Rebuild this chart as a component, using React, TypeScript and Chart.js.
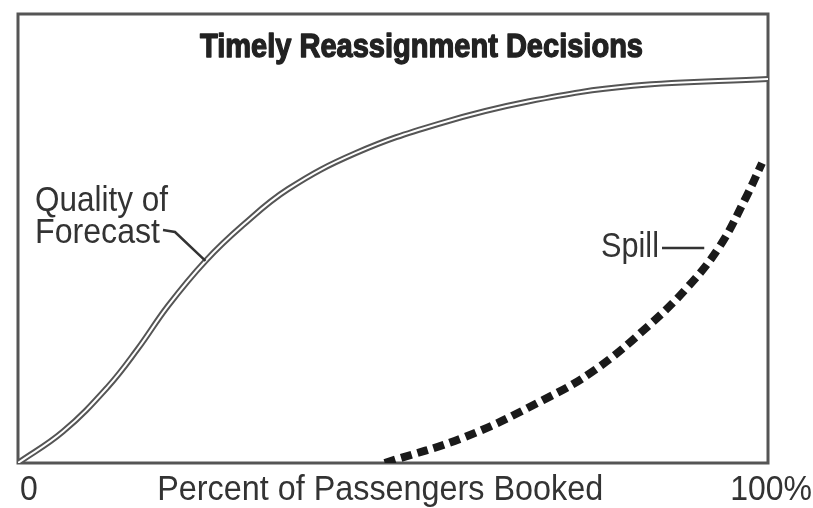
import React, { useEffect, useRef } from "react";
import { Chart, registerables } from "chart.js";

Chart.register(...registerables);

const chartTitle = "Timely Reassignment Decisions";
const xAxisLabel = "Percent of Passengers Booked";
const xTickLabels = ["0", "100%"];
const forecastLabel = ["Quality of", "Forecast"];
const spillLabel = "Spill";

const forecastX = [0, 6, 12, 16, 20, 25, 30, 36, 45, 56, 68, 82, 100];
const forecastY = [0, 7, 17, 25.5, 35, 45, 53, 61, 69, 75.5, 80.5, 84, 85.5];
const spillX = [48.9, 59.6, 70, 76.9, 83.9, 89.3, 93.5, 96.9, 99.2];
const spillY = [0, 5.8, 14, 20.7, 30.3, 39.2, 48.1, 58.6, 66.8];

const SANS = "'Liberation Sans', Arial, Helvetica, sans-serif";

function drawScaled(ctx: any, text: string, x: number, y: number, align: string, targetWidth: number | null, sy: number, strokeW = 0) {
  const w = ctx.measureText(text).width;
  const sx = targetWidth ? targetWidth / w : 1;
  ctx.save();
  ctx.translate(x, y);
  ctx.scale(sx, sy);
  ctx.textAlign = align;
  ctx.fillText(text, 0, 0);
  if (strokeW > 0) {
    ctx.lineWidth = strokeW;
    ctx.strokeStyle = ctx.fillStyle;
    ctx.lineJoin = "round";
    ctx.strokeText(text, 0, 0);
  }
  ctx.restore();
}

const decorPlugin = {
  id: "decor",
  beforeDatasetsDraw(chart: any) {
    const { ctx, chartArea } = chart;
    ctx.save();
    ctx.strokeStyle = "#555";
    ctx.lineWidth = 3;
    ctx.strokeRect(chartArea.left, chartArea.top, chartArea.right - chartArea.left, chartArea.bottom - chartArea.top);
    ctx.restore();
  },
  afterDraw(chart: any) {
    const { ctx, chartArea, scales } = chart;
    const xs = scales.x;
    const ys = scales.y;
    ctx.save();
    ctx.textBaseline = "alphabetic";
    // title
    ctx.fillStyle = "#222";
    ctx.font = `bold 32px ${SANS}`;
    drawScaled(ctx, chartTitle, xs.getPixelForValue(53.8), chartArea.top + 43, "center", 443, 1.05, 1.3);

    // axis labels
    ctx.fillStyle = "#333";
    ctx.font = `32px ${SANS}`;
    const by = chartArea.bottom + 37;
    drawScaled(ctx, xTickLabels[0], chartArea.left + 2, by, "left", null, 1.1);
    drawScaled(ctx, xAxisLabel, xs.getPixelForValue(48.3), by, "center", 446, 1.1);
    drawScaled(ctx, xTickLabels[1], chartArea.right + 44, by, "right", null, 1.1);

    // forecast label
    drawScaled(ctx, forecastLabel[0], chartArea.left + 17, 211, "left", 133, 1.1);
    drawScaled(ctx, forecastLabel[1], chartArea.left + 17, 243, "left", 125, 1.1);
    ctx.strokeStyle = "#333";
    ctx.lineWidth = 2.5;
    ctx.beginPath();
    ctx.moveTo(163, 230);
    ctx.lineTo(175, 232);
    ctx.lineTo(xs.getPixelForValue(25), ys.getPixelForValue(45));
    ctx.stroke();

    // spill label
    drawScaled(ctx, spillLabel, 601, 257, "left", 58, 1.1);
    ctx.beginPath();
    ctx.moveTo(662, 248);
    ctx.lineTo(xs.getPixelForValue(91.5), 248);
    ctx.stroke();
    ctx.restore();
  },
};

export default function App() {
  const ref = useRef<HTMLCanvasElement | null>(null);
  useEffect(() => {
    if (!ref.current) return;
    const forecastPts = forecastX.map((x, i) => ({ x, y: forecastY[i] }));
    const spillPts = spillX.map((x, i) => ({ x, y: spillY[i] }));
    const chart = new Chart(ref.current, {
      type: "line",
      data: {
        datasets: [
          {
            label: "Quality of Forecast",
            data: forecastPts,
            borderColor: "#ffffff",
            borderWidth: 2,
            pointRadius: 0,
            tension: 0.4,
            fill: false,
            order: 0,
          },
          {
            label: "Quality of Forecast (outline)",
            data: forecastPts,
            borderColor: "#555",
            borderWidth: 6,
            pointRadius: 0,
            tension: 0.4,
            fill: false,
            order: 1,
          },
          {
            label: "Spill",
            data: spillPts,
            borderColor: "#1a1a1a",
            borderWidth: 8,
            borderDash: [11, 6],
            borderCapStyle: "butt",
            pointRadius: 0,
            tension: 0.4,
            fill: false,
            order: 2,
          },
        ],
      },
      options: {
        animation: false,
        responsive: false,
        maintainAspectRatio: false,
        layout: { padding: { left: 18, right: 45, top: 14, bottom: 45 } },
        plugins: { legend: { display: false }, tooltip: { enabled: false }, title: { display: false } },
        scales: {
          x: { type: "linear", min: 0, max: 100, display: false },
          y: { type: "linear", min: 0, max: 100, display: false },
        },
      },
      plugins: [decorPlugin],
    } as any);
    return () => chart.destroy();
  }, []);
  return (
    <div style={{ position: "fixed", left: 0, top: 0, width: 813, height: 508, background: "#fff" }}>
      <canvas ref={ref} width={813} height={508} style={{ display: "block", width: 813, height: 508 }} />
    </div>
  );
}
